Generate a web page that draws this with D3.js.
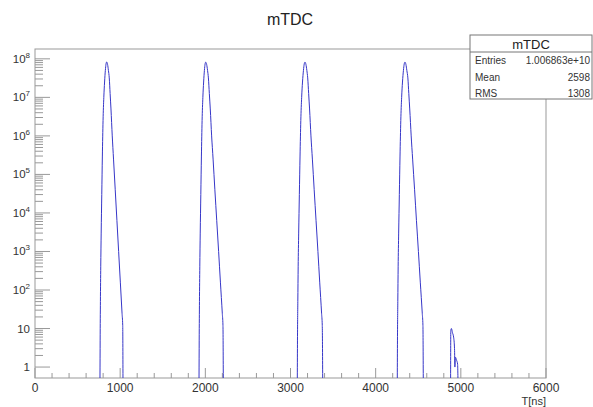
<!DOCTYPE html>
<html>
<head>
<meta charset="utf-8">
<script src="https://cdn.jsdelivr.net/npm/d3@7"></script>
<style>
  body { margin: 0; background: #fff; }
  text { font-family: "Liberation Sans", Arial, sans-serif; }
</style>
</head>
<body>
<svg id="chart" width="593" height="407"></svg>
<script>
// histogram outline, [T in ns, counts]
var peak1 = [[763,0.5],[765,5],[768,50],[772,400],[777,3e3],[784,3e4],[791,3e5],[799,2.5e6],[808,1e7],[817,2.5e7],[826,5e7],[834,7.3e7],[842,8.3e7],
             [852,7.2e7],[862,5e7],[872,3.2e7],[882,1.26e7],[892,5e6],[907,1e6],[922,2.5e5],[942,4e4],[962,6.3e3],[982,1e3],[1002,160],[1022,25],[1030,12],[1033,0.5]];
var peak2 = [[1926,0.5],[1928,5],[1931,50],[1935,400],[1940,3e3],[1947,3e4],[1954,3e5],[1962,2.5e6],[1971,1e7],[1980,2.5e7],[1989,5e7],[1997,7.3e7],[2004,8.2e7],
             [2015,7.2e7],[2026,5e7],[2036,3.2e7],[2047,1.26e7],[2058,5e6],[2074,1e6],[2091,2.5e5],[2112,4e4],[2134,6.3e3],[2156,1e3],[2177,160],[2199,25],[2207,12],[2211,0.5]];
var peak3 = [[3080,0.5],[3082,5],[3086,50],[3090,400],[3096,3e3],[3104,3e4],[3112,3e5],[3121,2.5e6],[3131,1e7],[3141,2.5e7],[3152,5e7],[3161,7.3e7],[3170,8.2e7],
             [3181,7.2e7],[3192,5e7],[3202,3.2e7],[3213,1.26e7],[3224,5e6],[3240,1e6],[3257,2.5e5],[3278,4e4],[3300,6.3e3],[3322,1e3],[3343,160],[3365,25],[3373,12],[3378,0.5]];
var peak4 = [[4254,0.5],[4256,5],[4260,50],[4264,400],[4270,3e3],[4278,3e4],[4286,3e5],[4295,2.5e6],[4305,1e7],[4315,2.5e7],[4326,5e7],[4335,7.3e7],[4344,8.2e7],
             [4355,7.2e7],[4366,5e7],[4378,3.2e7],[4389,1.26e7],[4400,5e6],[4417,1e6],[4434,2.5e5],[4457,4e4],[4479,6.3e3],[4502,1e3],[4524,160],[4547,25],[4555,12],[4559,0.5]];
var peak5 = [[4880,0.5],[4882,9],[4890,10],[4900,8],[4915,6],[4926,3],[4930,1],[4936,1.8],[4950,1.5],[4962,1.2],[4966,0.5]];
var peaks = [peak1, peak2, peak3, peak4, peak5];

var xTicks = [0, 1000, 2000, 3000, 4000, 5000, 6000];
var yExps = [0, 1, 2, 3, 4, 5, 6, 7, 8];

var statNames = ["Entries", "Mean", "RMS"];
var statValues = ["1.006863e+10", "2598", "1308"];

var svg = d3.select("#chart");
var margin = {top: 49, right: 47, bottom: 29, left: 35};
var width = +svg.attr("width") - margin.left - margin.right,
    height = +svg.attr("height") - margin.top - margin.bottom;

var x = d3.scaleLinear().domain([0, 6000]).range([0, width]);
var y = d3.scaleLog().domain([0.52, 1.8e8]).range([height, 0]);

var g = svg.append("g")
    .attr("transform", "translate(" + margin.left + "," + margin.top + ")");

// frame
g.append("rect")
    .attr("width", width).attr("height", height)
    .attr("fill", "none").attr("stroke", "#999").attr("stroke-width", 1);

// x ticks (major 1000, minor 200)
var xMinor = d3.range(0, 6001, 200);
g.selectAll(".xt").data(xMinor).enter().append("line")
    .attr("x1", function(d) { return x(d); }).attr("x2", function(d) { return x(d); })
    .attr("y1", height)
    .attr("y2", function(d) { return height - (d % 1000 === 0 ? 10 : 5); })
    .attr("stroke", "#999");

g.selectAll(".xl").data(xTicks).enter().append("text")
    .attr("x", function(d) { return x(d); })
    .attr("y", height + 14)
    .attr("text-anchor", "middle")
    .attr("font-size", 12).attr("fill", "#333")
    .text(function(d) { return d; });

g.append("text")
    .attr("x", width).attr("y", height + 27)
    .attr("text-anchor", "end")
    .attr("font-size", 11).attr("fill", "#333")
    .text("T[ns]");

// y ticks, log decades with 2..9 minors
var yMinor = [];
yExps.forEach(function(e) {
  for (var m = 1; m <= 9; m++) {
    var v = m * Math.pow(10, e);
    if (v >= y.domain()[0] && v <= y.domain()[1]) yMinor.push({v: v, major: m === 1});
  }
});
g.selectAll(".yt").data(yMinor).enter().append("line")
    .attr("x1", 0)
    .attr("x2", function(d) { return d.major ? 15 : 8; })
    .attr("y1", function(d) { return y(d.v); }).attr("y2", function(d) { return y(d.v); })
    .attr("stroke", "#999");

var yl = g.selectAll(".yl").data(yExps).enter().append("text")
    .attr("x", -5)
    .attr("y", function(d) { return y(Math.pow(10, d)) + 4; })
    .attr("text-anchor", "end")
    .attr("font-size", 11.5).attr("fill", "#333");
yl.each(function(d) {
  var t = d3.select(this);
  if (d === 0) t.text("1");
  else if (d === 1) t.text("10");
  else {
    t.append("tspan").text("10");
    t.append("tspan").attr("dy", -5).attr("font-size", 8).text(d);
  }
});

// histogram
var clampY = function(v) { return y(Math.max(v, y.domain()[0])); };
var line = d3.line()
    .x(function(d) { return x(d[0]); })
    .y(function(d) { return clampY(d[1]); })
    .curve(d3.curveMonotoneX);

g.selectAll(".peak").data(peaks).enter().append("path")
    .attr("d", line)
    .attr("fill", "none")
    .attr("stroke", "#3636c8")
    .attr("stroke-width", 1);

// title
svg.append("text")
    .attr("x", 290).attr("y", 25)
    .attr("text-anchor", "middle")
    .attr("font-size", 16).attr("fill", "#222")
    .text("mTDC");

// stats box
var box = svg.append("g").attr("transform", "translate(470,35)");
box.append("rect")
    .attr("width", 122).attr("height", 64)
    .attr("fill", "#fff").attr("stroke", "#777");
box.append("line")
    .attr("x1", 0).attr("x2", 122).attr("y1", 17).attr("y2", 17)
    .attr("stroke", "#777");
box.append("text")
    .attr("x", 61).attr("y", 13.5)
    .attr("text-anchor", "middle")
    .attr("font-size", 13).attr("fill", "#222")
    .text("mTDC");
statNames.forEach(function(n, i) {
  box.append("text")
      .attr("x", 5).attr("y", 29 + i * 16.5)
      .attr("font-size", 10).attr("fill", "#333")
      .text(n);
  box.append("text")
      .attr("x", 120).attr("y", 29 + i * 16.5)
      .attr("text-anchor", "end")
      .attr("font-size", 10).attr("fill", "#333")
      .text(statValues[i]);
});
</script>
</body>
</html>
